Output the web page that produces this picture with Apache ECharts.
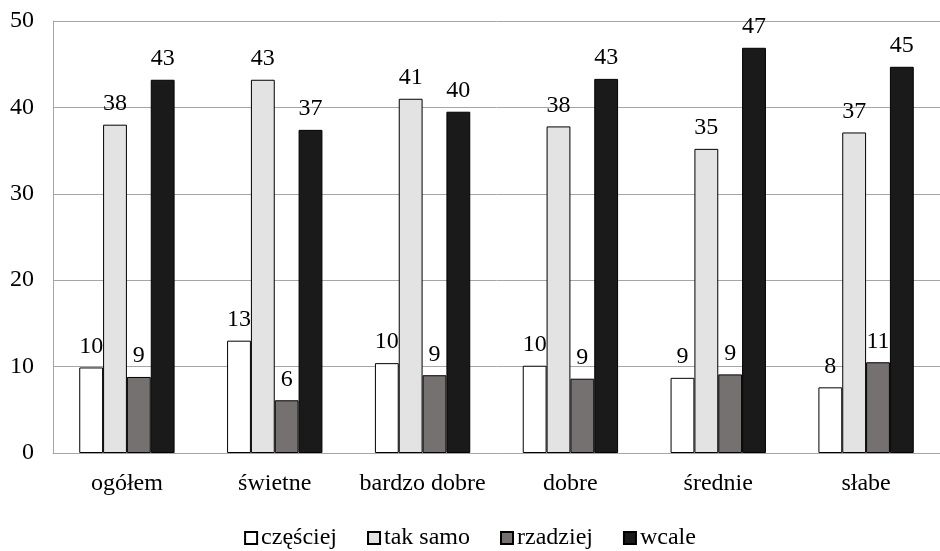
<!DOCTYPE html>
<html>
<head>
<meta charset="utf-8">
<script src="https://cdn.jsdelivr.net/npm/echarts@6/dist/echarts.min.js"></script>
<style>html,body{margin:0;padding:0;background:#fff}#c{width:940px;height:551px}</style>
</head>
<body>
<div id="c"></div>
<script>
var categories = ['ogółem', 'świetne', 'bardzo dobre', 'dobre', 'średnie', 'słabe'];
var seriesNames = ['częściej', 'tak samo', 'rzadziej', 'wcale'];
var czesciej = [9.9, 13.0, 10.4, 10.1, 8.7, 7.6];
var takSamo = [38.0, 43.2, 41.0, 37.8, 35.2, 37.1];
var rzadziej = [8.8, 6.1, 9.0, 8.6, 9.1, 10.5];
var wcale = [43.2, 37.4, 39.5, 43.3, 46.9, 44.7];
var yTicks = { min: 0, max: 50, interval: 10 };

var colors = ['#ffffff', '#e3e3e3', '#767171', '#1a1a1a'];
var values = [czesciej, takSamo, rzadziej, wcale];
var font = '"Liberation Serif", "Times New Roman", serif';
var fs = 24;

var chart = echarts.init(document.getElementById('c'));
chart.setOption({
  animation: false,
  textStyle: { fontFamily: font },
  grid: { left: 53, right: -7, top: 21, bottom: 98 },
  legend: {
    bottom: -4, left: 'center',
    itemWidth: 12, itemHeight: 12, itemGap: 30,
    icon: 'rect',
    textStyle: { fontFamily: font, fontSize: fs, color: '#000', padding: [0, 0, 0, -1] },
    data: seriesNames
  },
  xAxis: {
    type: 'category', data: categories,
    axisLine: { lineStyle: { color: '#a6a6a6', width: 1 } },
    axisTick: { show: false },
    axisLabel: { fontFamily: font, fontSize: fs, color: '#000', margin: 19, interval: 0 }
  },
  yAxis: {
    type: 'value', min: yTicks.min, max: yTicks.max, interval: yTicks.interval,
    axisLine: { show: true, lineStyle: { color: '#a6a6a6', width: 1 } },
    axisTick: { show: false },
    splitLine: { lineStyle: { color: '#a6a6a6', width: 1 } },
    axisLabel: { fontFamily: font, fontSize: fs, color: '#000', margin: 19 }
  },
  series: seriesNames.map(function (n, i) {
    return {
      name: n, type: 'bar', data: values[i],
      barGap: '0%', barCategoryGap: '35.5%',
      itemStyle: { color: colors[i], borderColor: '#000', borderWidth: 1 },
      label: {
        show: true, position: 'top', distance: 9,
        fontFamily: font, fontSize: fs, color: '#000',
        formatter: function (p) { return Math.round(p.value); }
      }
    };
  })
});
</script>
</body>
</html>
